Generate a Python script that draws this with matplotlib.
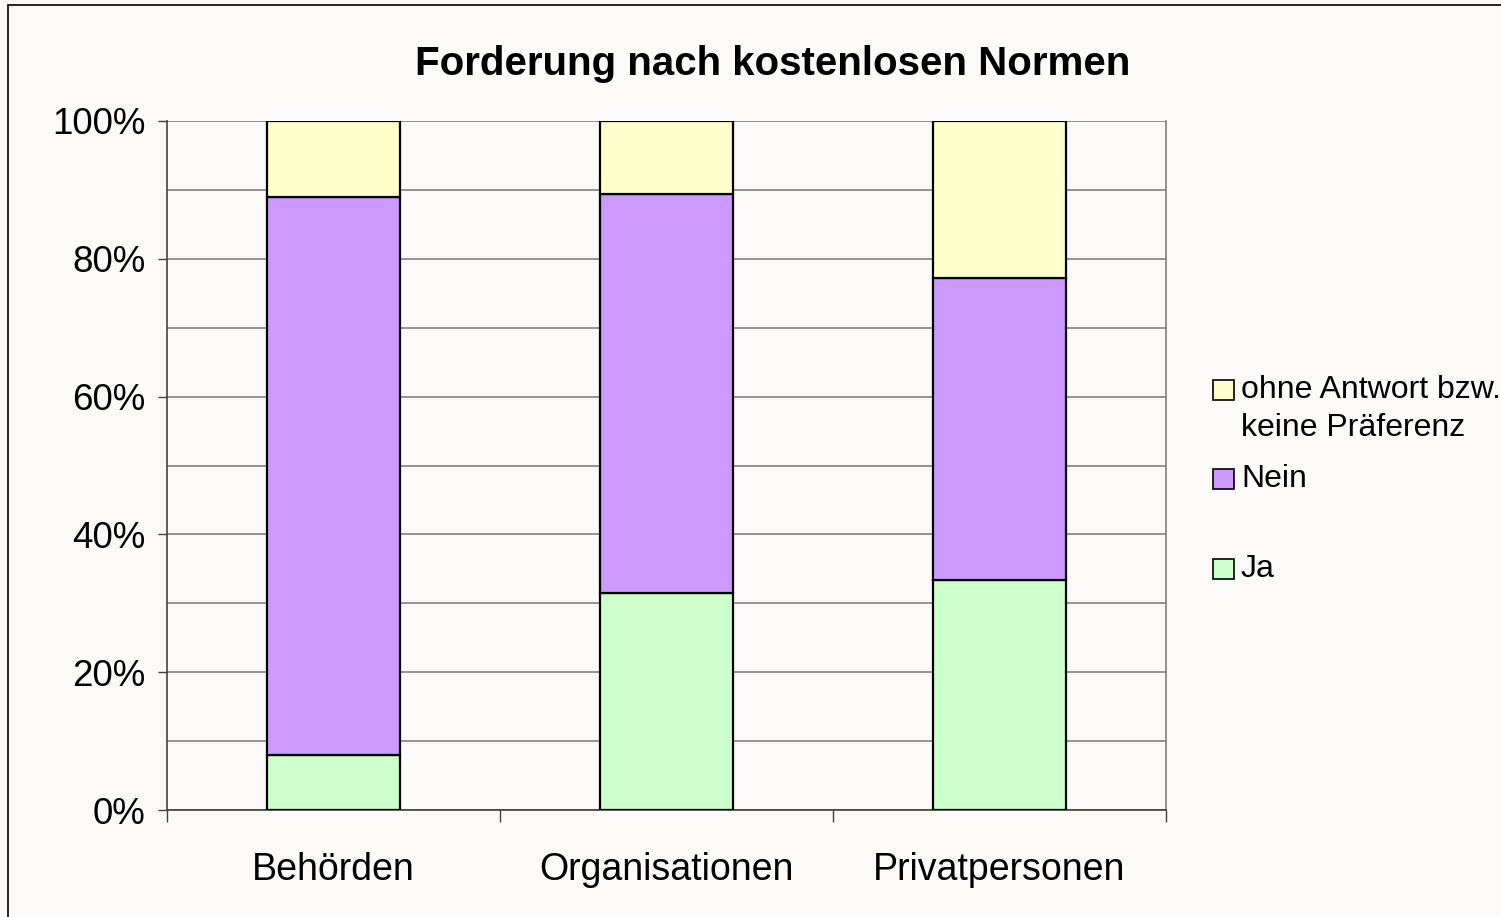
import matplotlib.pyplot as plt
import numpy as np
from matplotlib.patches import Rectangle
from matplotlib.ticker import FixedLocator, PercentFormatter


FONT = ["Liberation Sans", "DejaVu Sans"]
BG = "#fbfaf8"
GRID = "#808080"

categories = ["Behörden", "Organisationen", "Privatpersonen"]
ja = [8.0, 31.5, 33.4]
nein = [81.0, 57.9, 43.8]
ohne = [11.0, 10.6, 22.8]

series = [
    ("Ja", ja, "#ccffcc"),
    ("Nein", nein, "#cc99ff"),
    ("ohne Antwort bzw.\nkeine Präferenz", ohne, "#ffffcc"),
]

W, H = 1501, 917


def px(x, y):
    return x / W, 1 - y / H


plt.rcParams["font.family"] = FONT

fig = plt.figure(figsize=(W / 100, H / 100), dpi=100, facecolor=BG)
l, t = px(167, 121)
r, b = px(1166, 810)
ax = fig.add_axes([l, b, r - l, t - b], facecolor=BG)

# outer chart frame (only left/top are visible in the picture)
fig.patches.append(Rectangle(px(8, 1000), 1.2, (1000 - 5) / H, transform=fig.transFigure,
                             fill=False, edgecolor="black", lw=1.2))

x = np.arange(len(categories))
bottom = np.zeros(len(categories))
for name, vals, color in series:
    ax.bar(x, vals, width=0.4, bottom=bottom, color=color, edgecolor="black", lw=1.6, zorder=3)
    bottom += np.array(vals)

ax.set_xlim(-0.5, 2.5)
ax.set_ylim(0, 100)

ax.yaxis.set_major_locator(FixedLocator([0, 20, 40, 60, 80, 100]))
ax.yaxis.set_minor_locator(FixedLocator([10, 30, 50, 70, 90]))
ax.yaxis.set_major_formatter(PercentFormatter(decimals=0))
ax.yaxis.grid(True, which="both", color=GRID, lw=1.2, zorder=0)
ax.tick_params(axis="y", which="major", length=6.5, width=1.0, pad=9, labelsize=26.5, color="#404040")
ax.tick_params(axis="y", which="minor", length=0)

ax.set_xticks(x)
ax.set_xticklabels(categories)
ax.xaxis.set_minor_locator(FixedLocator([-0.5, 0.5, 1.5, 2.5]))
ax.tick_params(axis="x", which="major", length=0, pad=30, labelsize=27)
ax.tick_params(axis="x", which="minor", length=8.5, width=1.0, color="#404040")

for side in ("left", "bottom"):
    ax.spines[side].set_color("#404040")
    ax.spines[side].set_linewidth(1.2)
ax.spines["top"].set_visible(False)
ax.spines["right"].set_color(GRID)
ax.spines["right"].set_linewidth(1.2)

fig.text(*px(773, 64), "Forderung nach kostenlosen Normen", ha="center", va="center",
         fontsize=29, fontweight="bold")

# legend, laid out like the original (marker aligned with first text line)
legend_y = {"ohne Antwort bzw.\nkeine Präferenz": 390, "Nein": 479, "Ja": 569}
for name, vals, color in series:
    y = legend_y[name]
    fig.patches.append(Rectangle(px(1213, y + 10), 21 / W, 20 / H, transform=fig.transFigure,
                                 facecolor=color, edgecolor="black", lw=1.2))
    if "\n" in name:
        fig.text(*px(1241, y + 19), name, ha="left", va="center", fontsize=23, linespacing=1.33)
    else:
        fig.text(*px(1241, y), name, ha="left", va="center", fontsize=23)

fig.savefig("out.png", dpi=100, facecolor=BG)
